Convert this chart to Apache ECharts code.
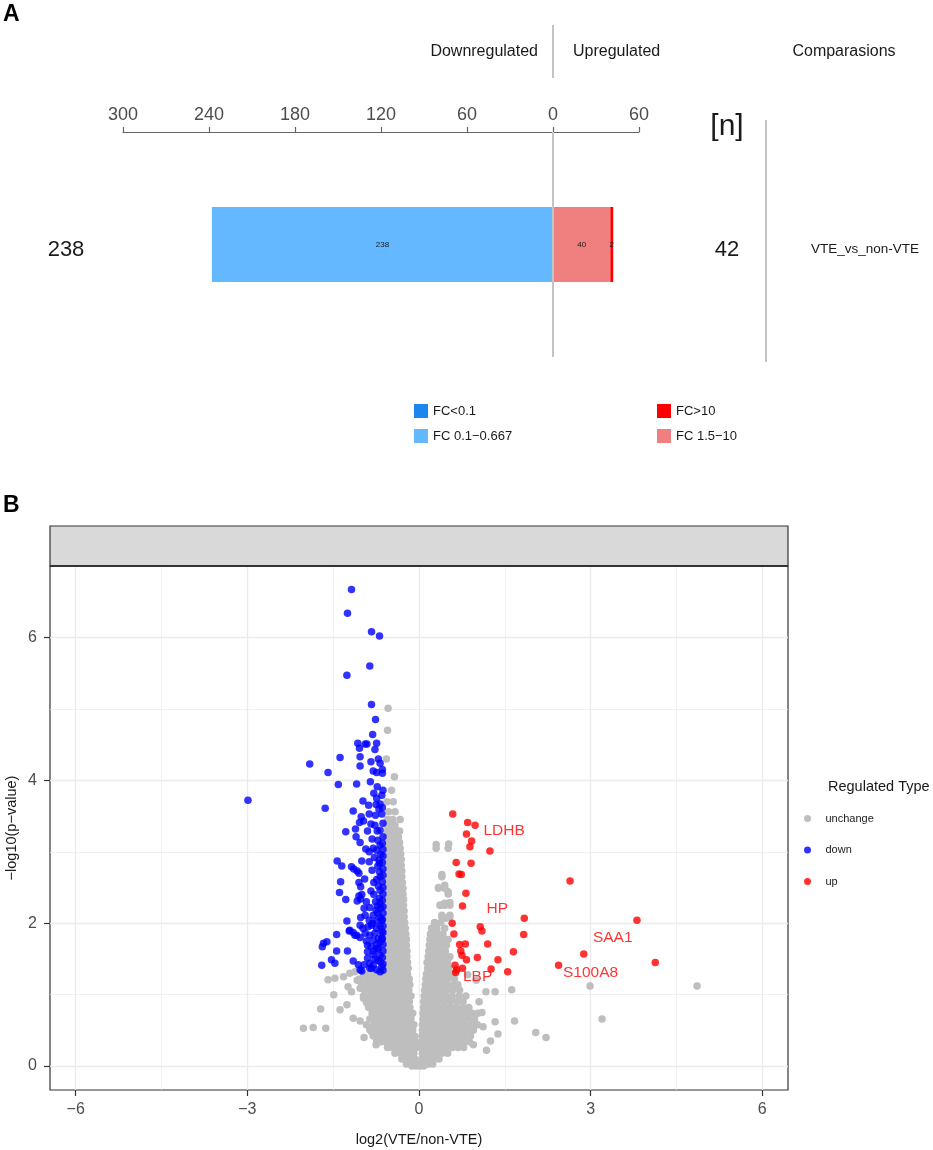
<!DOCTYPE html>
<html>
<head>
<meta charset="utf-8">
<script src="https://cdn.jsdelivr.net/npm/echarts@6.0.0/dist/echarts.min.js"></script>
<style>
  html, body { margin: 0; padding: 0; background: #fff; }
  #main { width: 933px; height: 1150px; }
</style>
</head>
<body>
<div id="main"></div>
<script>
// ---- panel A data ----
var comparisons = ['VTE_vs_non-VTE'];
var downStrong = [0];      // FC<0.1
var downMild = [238];      // FC 0.1-0.667
var upMild = [40];         // FC 1.5-10
var upStrong = [2];        // FC>10

// ---- panel B data: [log2FC, -log10 p] ----
var downPoints = [
  [-2.99,3.72],
  [-1.18,6.67],[-1.25,6.34],[-0.83,6.08],[-0.69,6.02],[-0.86,5.60],[-1.26,5.47],[-0.83,5.06],[-0.76,4.85],
  [-0.81,4.64],[-1.07,4.52],[-1.04,4.45],[-0.94,4.51],[-0.91,4.51],[-0.74,4.52],[-0.77,4.43],[-1.38,4.32],
  [-1.03,4.33],[-1.91,4.23],[-0.84,4.26],[-0.68,4.24],[-1.03,4.20],[-1.59,4.11],[-0.80,4.13],[-0.74,4.11],
  [-0.64,4.15],[-0.64,4.10],[-1.41,3.94],[-1.09,3.95],[-0.73,3.91],
  [-1.64,3.61],[-1.15,3.57],[-0.98,3.71],[-0.74,3.75],[-0.65,3.79],[-0.75,3.66],[-0.68,3.67],[-0.70,3.60],
  [-1.01,3.49],[-0.97,3.43],[-1.04,3.41],[-0.87,3.53],[-0.76,3.51],[-0.84,3.39],[-0.77,3.37],[-0.65,3.53],
  [-1.28,3.28],[-1.11,3.32],[-0.90,3.29],[-0.73,3.29],[-0.68,3.30],[-1.10,3.21],[-1.03,3.13],[-0.68,3.09],
  [-0.80,3.05],[-0.93,3.04],[-0.87,3.00],[-0.74,3.02],[-0.67,2.96],[-0.70,2.88],[-0.69,2.84],
  [-1.43,2.87],[-1.35,2.80],[-1.00,2.87],[-0.87,2.86],[-1.18,2.79],[-1.14,2.76],[-1.08,2.73],[-1.05,2.70],
  [-0.82,2.74],[-0.69,2.72],[-0.68,2.65],[-0.74,2.61],[-0.79,2.57],[-1.37,2.58],[-1.05,2.57],[-1.02,2.51],
  [-1.39,2.43],[-0.84,2.45],[-0.79,2.40],[-0.68,2.46],[-0.69,2.35],[-1.05,2.38],[-1.00,2.40],[-1.08,2.31],
  [-1.02,2.34],[-1.28,2.33],
  [-0.68,2.28],[-0.73,2.24],[-0.67,2.21],[-0.75,2.18],[-0.86,2.22],[-0.96,2.21],[-1.02,2.08],[-0.94,2.11],
  [-0.80,2.11],[-0.68,2.08],[-0.65,2.04],[-0.74,2.03],[-0.87,2.04],[-1.26,2.03],[-1.21,1.90],[-1.15,1.87],
  [-1.44,1.84],[-1.22,1.89],[-1.12,1.83],
  [-1.03,1.97],[-0.98,1.93],[-0.89,1.95],[-0.83,1.97],[-0.74,1.93],[-0.68,1.96],[-0.65,1.88],[-0.77,1.86],
  [-0.86,1.83],[-0.94,1.86],[-1.09,1.83],[-1.03,1.80],
  [-1.61,1.74],[-1.67,1.72],[-1.69,1.67],[-1.44,1.61],[-1.25,1.61],[-0.90,1.69],[-0.84,1.67],[-0.74,1.70],
  [-0.68,1.73],[-0.65,1.79],[-0.71,1.64],[-0.90,1.60],[-0.79,1.61],[-0.68,1.55],[-0.80,1.56],[-0.74,1.65],
  [-1.53,1.49],[-1.47,1.44],[-1.70,1.41],[-1.15,1.47],[-1.06,1.42],[-1.00,1.33],[-1.03,1.35],[-0.90,1.51],
  [-0.86,1.44],[-0.80,1.41],[-0.68,1.46],[-0.65,1.39],[-0.74,1.35],[-0.86,1.37],[-0.68,1.32],[-0.83,1.37],
  [-0.63,1.34],[-0.63,1.43],[-0.64,1.52],[-0.63,1.61],[-0.63,1.70],[-0.64,1.78],[-0.63,1.87],[-0.63,1.96],
  [-0.64,2.05],[-0.63,2.14],[-0.63,2.23],[-0.64,2.32],[-0.63,2.41],[-0.63,2.50],[-0.64,2.58],[-0.63,2.67],
  [-0.63,2.76],[-0.64,2.85],[-0.63,2.94],[-0.63,3.03],[-0.64,3.12],[-0.63,3.21],[-0.63,3.40],[-0.64,3.62],
  [-0.63,3.86],[-0.72,1.48],[-0.77,1.50],[-0.71,1.79],[-0.80,1.76],[-0.72,2.14],[-0.81,2.00],[-0.71,2.52],
  [-0.76,2.30],[-0.72,2.80],[-0.78,2.92],[-0.72,3.16],[-0.82,3.18],[-0.95,2.62],[-0.92,2.30],[-0.92,1.75],
  [-0.96,1.42],[-0.79,3.82],[-0.85,3.98],[-0.71,4.30],[-0.88,3.65]
];

var upPoints = [
  [0.59,3.53],[0.85,3.41],[0.98,3.37,'LDHB'],[0.83,3.25],[0.92,3.15],[0.89,3.07],[1.24,3.01],[0.65,2.85],
  [0.91,2.84],[0.70,2.69],[0.74,2.68],[2.64,2.59],[0.82,2.42],[0.76,2.24],[1.84,2.07,'HP'],[3.81,2.04],
  [0.58,2.00],[1.07,1.95],[1.10,1.89],[0.61,1.85],[1.83,1.84],[0.71,1.70],[0.81,1.71],[1.20,1.71],
  [0.73,1.61],[1.65,1.60],[2.88,1.57,'SAA1'],[0.75,1.55],[0.83,1.49],[1.02,1.52],[1.38,1.49],[4.13,1.45],
  [0.63,1.41],[2.44,1.41,'S100A8'],[0.66,1.35],[0.76,1.37],[1.26,1.36],[1.55,1.32],[0.64,1.31,'LBP']
];

// unchanged proteins, read row by row: [y, x, x, ...]
var grayRows = [
  [0.00,-0.12,-0.05,0.02,0.08],
  [0.03,-0.22,-0.15,-0.08,-0.02,0.04,0.10,0.17,0.24],
  [0.10,-0.30,-0.22,-0.14,-0.07,0.05,0.12,0.19,0.27,0.35],
  [0.18,-0.42,-0.33,-0.25,-0.17,-0.09,0.06,0.14,0.22,0.31,0.40,0.50],
  [0.26,-0.55,-0.47,-0.38,-0.29,-0.20,-0.11,-0.04,0.05,0.13,0.22,0.30,0.39,0.48,0.58,0.68,0.78],
  [0.34,-0.74,-0.66,-0.58,-0.49,-0.40,-0.31,-0.22,-0.13,-0.05,0.06,0.15,0.24,0.33,0.42,0.51,0.60,0.70,0.80,0.88],
  [0.42,-0.80,-0.71,-0.62,-0.53,-0.44,-0.35,-0.26,-0.17,-0.08,0.05,0.14,0.23,0.32,0.41,0.50,0.60,0.69,0.79,0.90],
  [0.50,-0.84,-0.75,-0.66,-0.57,-0.48,-0.39,-0.30,-0.21,-0.11,0.06,0.15,0.24,0.33,0.43,0.52,0.62,0.72,0.83,0.95],
  [0.58,-0.79,-0.70,-0.61,-0.52,-0.43,-0.34,-0.25,-0.16,-0.09,0.06,0.14,0.23,0.32,0.41,0.51,0.61,0.71,0.81,0.92,1.02],
  [0.66,-0.86,-0.77,-0.68,-0.59,-0.50,-0.41,-0.32,-0.23,-0.14,0.07,0.16,0.25,0.34,0.44,0.54,0.64,0.74,0.85,0.97],
  [0.74,-0.82,-0.73,-0.64,-0.55,-0.46,-0.37,-0.28,-0.19,-0.11,0.07,0.15,0.24,0.33,0.42,0.52,0.62,0.72,0.82,0.93,1.03],
  [0.82,-0.88,-0.79,-0.70,-0.61,-0.52,-0.43,-0.34,-0.25,-0.16,0.08,0.17,0.26,0.35,0.45,0.55,0.65,0.76,0.87],
  [0.90,-0.92,-0.81,-0.71,-0.62,-0.53,-0.44,-0.35,-0.26,-0.17,0.08,0.17,0.26,0.35,0.45,0.55,0.66,0.77],
  [0.98,-0.97,-0.86,-0.75,-0.65,-0.56,-0.47,-0.38,-0.29,-0.20,-0.14,0.09,0.18,0.27,0.37,0.47,0.58,0.70,0.82],
  [1.06,-0.95,-0.84,-0.73,-0.63,-0.54,-0.45,-0.36,-0.27,-0.18,0.10,0.19,0.28,0.38,0.48,0.59,0.71],
  [1.14,-1.00,-0.89,-0.78,-0.68,-0.59,-0.50,-0.41,-0.32,-0.23,-0.16,0.11,0.20,0.29,0.39,0.49,0.60,0.68],
  [1.22,-1.04,-0.92,-0.81,-0.70,-0.61,-0.52,-0.43,-0.34,-0.25,-0.17,0.12,0.21,0.30,0.40,0.50,0.62],
  [1.29,-0.97,-0.86,-0.76,-0.66,-0.56,-0.47,-0.38,-0.29,-0.20,0.13,0.22,0.31,0.41,0.51,0.60],
  [1.37,-0.55,-0.46,-0.37,-0.28,-0.19,0.15,0.24,0.33,0.42,0.52],
  [1.45,-0.56,-0.47,-0.38,-0.29,-0.20,0.14,0.23,0.32,0.41,0.50],
  [1.53,-0.55,-0.46,-0.37,-0.28,-0.21,0.16,0.25,0.34,0.44,0.54],
  [1.61,-0.56,-0.47,-0.38,-0.29,-0.21,0.17,0.26,0.35,0.46],
  [1.69,-0.55,-0.46,-0.37,-0.28,-0.22,0.18,0.27,0.37,0.48],
  [1.77,-0.56,-0.47,-0.38,-0.29,-0.22,0.19,0.29,0.40,0.51],
  [1.85,-0.55,-0.46,-0.37,-0.29,-0.23,0.20,0.30,0.42],
  [1.93,-0.56,-0.47,-0.38,-0.30,-0.24,0.22,0.31,0.45],
  [2.01,-0.55,-0.46,-0.38,-0.30,-0.25,0.27,0.38],
  [2.09,-0.56,-0.47,-0.39,-0.31,-0.26,0.40,0.54],
  [2.17,-0.55,-0.46,-0.38,-0.31,-0.26],
  [2.25,-0.56,-0.47,-0.39,-0.32,-0.27,0.37,0.45,0.54],
  [2.33,-0.55,-0.46,-0.38,-0.31,-0.27],
  [2.41,-0.56,-0.48,-0.40,-0.33,-0.28,0.51],
  [2.49,-0.55,-0.47,-0.39,-0.32,-0.28,0.34,0.45],
  [2.57,-0.56,-0.48,-0.40,-0.33,-0.29],
  [2.65,-0.55,-0.47,-0.39,-0.33,-0.30,0.40],
  [2.73,-0.56,-0.48,-0.41,-0.34,-0.30],
  [2.81,-0.55,-0.47,-0.40,-0.34,-0.31],
  [2.89,-0.56,-0.48,-0.41,-0.35,-0.31],
  [2.97,-0.55,-0.47,-0.40,-0.34,-0.32],
  [3.05,-0.56,-0.48,-0.41,-0.35,-0.33,0.30,0.51],
  [3.13,-0.55,-0.47,-0.40,-0.34],
  [3.21,-0.56,-0.48,-0.41,-0.36],
  [3.29,-0.55,-0.47,-0.39,-0.34],
  [3.37,-0.56,-0.48,-0.42],
  [3.45,-0.55,-0.46,-0.33],
  [3.56,-0.53,-0.42],
  [3.70,-0.56,-0.45],
  [3.86,-0.48],
  [4.05,-0.43],
  [4.30,-0.57],
  [4.70,-0.55],
  [5.01,-0.54]
];

var grayScattered = [
  [-2.02,0.53],[-1.85,0.54],[-1.63,0.53],[-1.72,0.80],[-1.38,0.79],[-1.26,0.86],[-1.15,0.67],[-1.03,0.63],
  [-1.49,1.00],[-1.59,1.21],[-1.47,1.23],[-1.32,1.25],[-1.21,1.30],[-1.12,1.32],[-1.24,1.11],[-1.18,1.04],
  [-1.03,1.09],[-0.97,0.95],[-0.91,0.88],[-0.86,0.51],[-0.83,0.48],[-0.75,0.30],[-1.08,1.20],[-0.96,0.40],
  [-0.92,0.58],
  [1.17,1.04],[1.33,1.04],[1.62,1.07],[1.33,0.62],[1.67,0.63],[2.04,0.47],[2.22,0.40],[2.99,1.12],
  [4.86,1.12],[3.20,0.66],[1.05,0.90],[1.12,0.55],[1.00,1.20],[0.95,0.30],[1.10,0.75],[0.85,1.28],
  [1.25,0.35],[1.38,0.45],[1.18,0.22],
  [0.30,3.10],[0.52,3.11],[0.40,2.68],[0.34,2.50],[0.45,2.53],[0.51,2.44],[0.37,2.25],[0.45,2.28],
  [0.54,2.29],[0.40,2.11],[0.54,2.11],[0.47,2.07],[0.31,1.90],[0.37,1.83]
];

var xTicks = [-6, -3, 0, 3, 6];
var yTicks = [0, 2, 4, 6];

// ---- build ----
var FONT = 'Liberation Sans, Arial, sans-serif';
var minus = function (v) { return String(v).replace('-', '\u2212'); };

var grayPoints = [];
grayRows.forEach(function (r) {
  r.slice(1).forEach(function (x) { grayPoints.push([x, r[0]]); });
});
grayPoints = grayPoints.concat(grayScattered);

var labelOffsets = { LDHB: [29, 5], HP: [-27, -9], SAA1: [29, -16], S100A8: [32, 7], LBP: [22, 4] };
var upData = upPoints.map(function (p) {
  if (!p[2]) return [p[0], p[1]];
  return {
    value: [p[0], p[1]],
    name: p[2],
    label: {
      show: true, position: 'inside', formatter: '{b}', offset: labelOffsets[p[2]],
      color: '#FF0000', fontSize: 15.5, fontFamily: FONT
    }
  };
});

var gridLineData = [];
xTicks.forEach(function (v, i) {
  gridLineData.push({ xAxis: v, lineStyle: { width: 1.3 } });
  if (i < xTicks.length - 1) gridLineData.push({ xAxis: (v + xTicks[i + 1]) / 2, lineStyle: { width: 0.7 } });
});
yTicks.forEach(function (v) {
  gridLineData.push({ yAxis: v, lineStyle: { width: 1.3 } });
  gridLineData.push({ yAxis: v + 1, lineStyle: { width: 0.7 } });
});

var barLabel = {
  show: true, position: 'inside', fontSize: 8, color: '#1a1a1a', fontFamily: FONT,
  formatter: function (p) { return p.value === 0 ? '' : Math.abs(p.value); }
};

var chart = echarts.init(document.getElementById('main'));
var option = {
  animation: false,
  backgroundColor: '#fff',
  textStyle: { fontFamily: FONT },
  grid: [
    { left: 123, right: 294, top: 132, height: 225, outerBoundsMode: 'none' },
    {
      left: 50, right: 145, top: 566, bottom: 60, outerBoundsMode: 'none',
      show: true, borderColor: '#333', borderWidth: 1.2, backgroundColor: '#fff'
    }
  ],
  xAxis: [
    {
      gridIndex: 0, type: 'value', position: 'top', min: -300, max: 60, interval: 60,
      axisLine: { show: true, lineStyle: { color: '#666', width: 1.2 } },
      axisTick: { show: true, inside: false, length: 5, lineStyle: { color: '#666', width: 1.2 } },
      axisLabel: { color: '#4D4D4D', fontSize: 18, margin: 8, formatter: function (v) { return Math.abs(v); } },
      splitLine: { show: false }
    },
    {
      gridIndex: 1, type: 'value', min: -6.45, max: 6.45, position: 'bottom',
      name: 'log2(VTE/non-VTE)', nameLocation: 'middle', nameGap: 42, nameMoveOverlap: false,
      nameTextStyle: { color: '#1a1a1a', fontSize: 14.5, fontFamily: FONT },
      axisLine: { show: false, onZero: false },
      axisTick: { show: true, length: 6, customValues: xTicks, lineStyle: { color: '#333', width: 1.2 } },
      axisLabel: { color: '#4D4D4D', fontSize: 16, margin: 12, customValues: xTicks, formatter: minus },
      splitLine: { show: false }
    }
  ],
  yAxis: [
    { gridIndex: 0, type: 'category', data: comparisons, show: false },
    {
      gridIndex: 1, type: 'value', min: -0.335, max: 7.0, position: 'left',
      name: '\u2212log10(p\u2212value)', nameLocation: 'middle', nameGap: 31, nameRotate: 90,
      nameMoveOverlap: false,
      nameTextStyle: { color: '#1a1a1a', fontSize: 14.5, fontFamily: FONT },
      axisLine: { show: false, onZero: false },
      axisTick: { show: true, length: 6, customValues: yTicks, lineStyle: { color: '#333', width: 1.2 } },
      axisLabel: { color: '#4D4D4D', fontSize: 16, margin: 13, customValues: yTicks, formatter: minus },
      splitLine: { show: false }
    }
  ],
  legend: [
    {
      data: ['FC<0.1', 'FC 0.1\u22120.667'], orient: 'vertical', left: 409, top: 399,
      icon: 'rect', itemWidth: 14, itemHeight: 14, itemGap: 11, selectedMode: false,
      textStyle: { fontSize: 13, color: '#1a1a1a', fontFamily: FONT }
    },
    {
      data: ['FC>10', 'FC 1.5\u221210'], orient: 'vertical', left: 652, top: 399,
      icon: 'rect', itemWidth: 14, itemHeight: 14, itemGap: 11, selectedMode: false,
      textStyle: { fontSize: 13, color: '#1a1a1a', fontFamily: FONT }
    },
    {
      data: ['unchange', 'down', 'up'], orient: 'vertical', left: 799, top: 808,
      icon: 'circle', itemWidth: 26, itemHeight: 7, itemGap: 20.5, selectedMode: false,
      textStyle: { fontSize: 11, color: '#1a1a1a', fontFamily: FONT }
    }
  ],
  series: [
    {
      name: 'FC 0.1\u22120.667', type: 'bar', stack: 'n', xAxisIndex: 0, yAxisIndex: 0, barWidth: 75,
      itemStyle: { color: '#63B8FF' }, label: barLabel,
      data: downMild.map(function (v) { return -v; }),
      markLine: {
        silent: true, symbol: ['none', 'none'], label: { show: false },
        lineStyle: { color: '#C4C4C4', width: 2, type: 'solid' },
        data: [{ xAxis: 0 }]
      }
    },
    {
      name: 'FC<0.1', type: 'bar', stack: 'n', xAxisIndex: 0, yAxisIndex: 0, barWidth: 75,
      itemStyle: { color: '#1C86EE' }, label: barLabel,
      data: downStrong.map(function (v) { return -v; })
    },
    {
      name: 'FC 1.5\u221210', type: 'bar', stack: 'n', xAxisIndex: 0, yAxisIndex: 0, barWidth: 75,
      itemStyle: { color: '#F08080' }, label: barLabel, data: upMild
    },
    {
      name: 'FC>10', type: 'bar', stack: 'n', xAxisIndex: 0, yAxisIndex: 0, barWidth: 75,
      itemStyle: { color: '#FF0000' }, label: barLabel, data: upStrong
    },
    {
      name: 'gridlines', type: 'scatter', xAxisIndex: 1, yAxisIndex: 1, data: [], z: 1,
      markLine: {
        silent: true, z: 1, symbol: ['none', 'none'], label: { show: false }, animation: false,
        lineStyle: { color: '#EBEBEB', type: 'solid' },
        data: gridLineData
      }
    },
    {
      name: 'unchange', type: 'scatter', xAxisIndex: 1, yAxisIndex: 1, symbolSize: 7.5, z: 2,
      itemStyle: { color: '#BEBEBE', opacity: 1 }, data: grayPoints
    },
    {
      name: 'down', type: 'scatter', xAxisIndex: 1, yAxisIndex: 1, symbolSize: 7.5, z: 3,
      itemStyle: { color: '#0000FF', opacity: 0.8 }, data: downPoints
    },
    {
      name: 'up', type: 'scatter', xAxisIndex: 1, yAxisIndex: 1, symbolSize: 7.5, z: 4,
      itemStyle: { color: '#FF0000', opacity: 0.8 }, data: upData
    }
  ]
};
chart.setOption(option);

// decorations placed from the axes
var zeroX = chart.convertToPixel({ xAxisIndex: 0 }, 0);
var rowY = chart.convertToPixel({ yAxisIndex: 0 }, comparisons[0]);
var sum = function (a) { return a.reduce(function (s, v) { return s + v; }, 0); };
var downTotal = sum(downMild) + sum(downStrong);
var upTotal = sum(upMild) + sum(upStrong);
var plotTL = chart.convertToPixel({ xAxisIndex: 1, yAxisIndex: 1 }, [-6.45, 7.0]);
var plotBR = chart.convertToPixel({ xAxisIndex: 1, yAxisIndex: 1 }, [6.45, -0.335]);
var stripTop = 526;

var txt = function (x, y, s, size, align, extra) {
  var st = { text: s, fontSize: size, fill: '#1a1a1a', fontFamily: FONT, align: align || 'center', verticalAlign: 'middle' };
  if (extra) for (var k in extra) st[k] = extra[k];
  return { type: 'text', x: x, y: y, style: st, silent: true };
};

chart.setOption({
  graphic: [
    txt(3, 15, 'A', 23, 'left', { fontWeight: 'bold', fill: '#000' }),
    txt(3, 506, 'B', 23, 'left', { fontWeight: 'bold', fill: '#000' }),
    txt(zeroX - 15, 52, 'Downregulated', 16, 'right'),
    txt(zeroX + 20, 52, 'Upregulated', 16, 'left'),
    txt(844, 52, 'Comparasions', 16, 'center'),
    { type: 'line', silent: true, shape: { x1: zeroX, y1: 25, x2: zeroX, y2: 78 }, style: { stroke: '#C4C4C4', lineWidth: 2 } },
    { type: 'line', silent: true, shape: { x1: 766, y1: 120, x2: 766, y2: 362 }, style: { stroke: '#C4C4C4', lineWidth: 2 } },
    txt(727, 127, '[n]', 30, 'center'),
    txt(66, rowY + 5, String(downTotal), 22, 'center'),
    txt(727, rowY + 5, String(upTotal), 22, 'center'),
    txt(865, rowY + 5, comparisons[0], 13.5, 'center'),
    {
      type: 'rect', silent: true, z: 10,
      shape: { x: plotTL[0], y: stripTop, width: plotBR[0] - plotTL[0], height: plotTL[1] - stripTop },
      style: { fill: '#D9D9D9', stroke: '#333', lineWidth: 1.2 }
    },
    {
      type: 'line', silent: true, z: 11,
      shape: { x1: plotTL[0], y1: plotTL[1], x2: plotBR[0], y2: plotTL[1] },
      style: { stroke: '#333', lineWidth: 2 }
    },
    txt(828, 787, 'Regulated Type', 14.5, 'left')
  ]
});

window.onresize = chart.resize;
</script>
</body>
</html>
